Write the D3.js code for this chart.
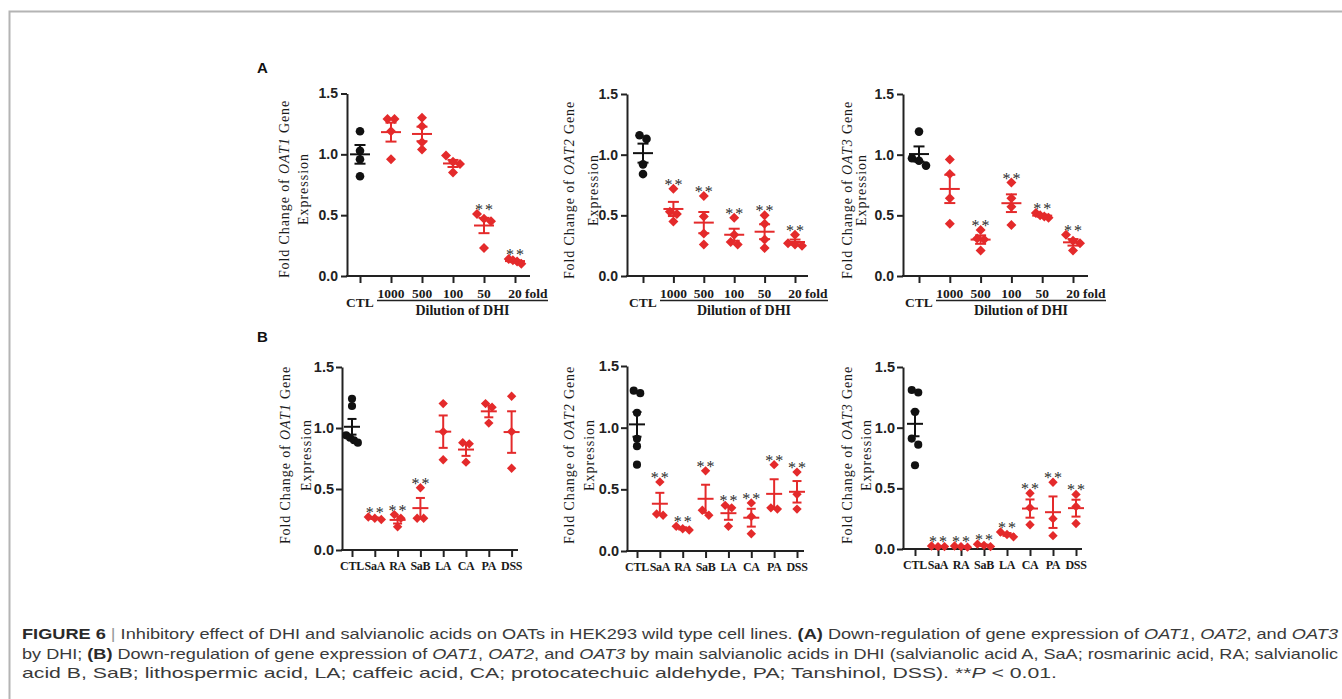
<!DOCTYPE html>
<html>
<head>
<meta charset="utf-8">
<script src="https://cdn.jsdelivr.net/npm/d3@7"></script>
<style>
  body { margin: 0; background: #fff; }
  svg { display: block; }
</style>
</head>
<body>
<div id="app"></div>
<script>
// categories
const dhiCats = ["CTL", "1000", "500", "100", "50", "20"];
const acidCats = ["CTL", "SaA", "RA", "SaB", "LA", "CA", "PA", "DSS"];
const yTicks = [0, 0.5, 1.0, 1.5];

// (A) DHI dilutions, fold change per replicate
const oat1Dhi = [[1.19, 1.03, 0.96, 0.82], [1.29, 1.29, 1.19, 0.96], [1.30, 1.23, 1.10, 1.04],
                 [0.99, 0.94, 0.92, 0.85], [0.51, 0.47, 0.45, 0.23], [0.14, 0.13, 0.12, 0.10]];
const oat2Dhi = [[1.16, 1.13, 0.92, 0.84], [0.72, 0.53, 0.51, 0.45], [0.66, 0.49, 0.35, 0.26],
                 [0.48, 0.34, 0.28, 0.26], [0.50, 0.43, 0.30, 0.23], [0.34, 0.27, 0.26, 0.25]];
const oat3Dhi = [[1.19, 0.97, 0.95, 0.91], [0.96, 0.84, 0.64, 0.43], [0.38, 0.31, 0.30, 0.21],
                 [0.77, 0.64, 0.57, 0.42], [0.52, 0.50, 0.49, 0.48], [0.34, 0.29, 0.27, 0.21]];
const oat1DhiSig = [false, false, false, false, true, true];
const oat2DhiSig = [false, true, true, true, true, true];
const oat3DhiSig = [false, false, true, true, true, true];

// (B) salvianolic acids
const oat1Acid = [[1.24, 1.18, 0.94, 0.92, 0.90, 0.88], [0.27, 0.26, 0.25], [0.29, 0.26, 0.19],
                  [0.51, 0.26, 0.26], [1.20, 0.97, 0.74], [0.88, 0.87, 0.72], [1.20, 1.17, 1.04],
                  [1.26, 0.97, 0.67]];
const oat2Acid = [[1.30, 1.28, 1.12, 0.91, 0.85, 0.70], [0.56, 0.30, 0.29], [0.20, 0.18, 0.17],
                  [0.65, 0.33, 0.29], [0.37, 0.35, 0.20], [0.39, 0.28, 0.14], [0.70, 0.35, 0.34],
                  [0.64, 0.46, 0.34]];
const oat3Acid = [[1.31, 1.29, 1.13, 0.91, 0.86, 0.69], [0.025, 0.02, 0.02], [0.025, 0.02, 0.015],
                  [0.04, 0.03, 0.02], [0.14, 0.12, 0.10], [0.46, 0.34, 0.20], [0.55, 0.25, 0.11],
                  [0.45, 0.35, 0.21]];
const oat1AcidSig = [false, true, true, true, false, false, false, false];
const oat2AcidSig = [false, true, true, true, true, true, true, true];
const oat3AcidSig = [false, true, true, true, true, true, true, true];

const captionLines = [
    [["FIGURE 6", "b"], [" | ", "sep"], ["Inhibitory effect of DHI and salvianolic acids on OATs in HEK293 wild type cell lines. "], ["(A)", "b"],
     [" Down-regulation of gene expression of "], ["OAT1", "i"], [", "], ["OAT2", "i"], [", and "], ["OAT3", "i"]],
    [["by DHI; "], ["(B)", "b"], [" Down-regulation of gene expression of "], ["OAT1", "i"], [", "], ["OAT2", "i"], [", and "], ["OAT3", "i"],
     [" by main salvianolic acids in DHI (salvianolic acid A, SaA; rosmarinic acid, RA; salvianolic"]],
    [["acid B, SaB; lithospermic acid, LA; caffeic acid, CA; protocatechuic aldehyde, PA; Tanshinol, DSS). **"], ["P", "i"], [" < 0.01."]]
];

const W = 1342, H = 699;
const serif = "'Liberation Serif', 'Times New Roman', serif";
const sans = "'Liberation Sans', Arial, sans-serif";
const red = "#e42a2b";
const black = "#111";
const axisColor = "#222";

const panels = [
    { cats: dhiCats, values: oat1Dhi, sig: oat1DhiSig, gene: "OAT1", dhi: true,
      axisX: 347, xFirst: 360, xLast: 515, xEnd: 530, y0: 276, yTop: 93.5, t1: 289, t2: 308, tcy: 189 },
    { cats: dhiCats, values: oat2Dhi, sig: oat2DhiSig, gene: "OAT2", dhi: true,
      axisX: 627, xFirst: 643, xLast: 795, xEnd: 808, y0: 276, yTop: 94, t1: 574, t2: 598, tcy: 190 },
    { cats: dhiCats, values: oat3Dhi, sig: oat3DhiSig, gene: "OAT3", dhi: true,
      axisX: 903, xFirst: 919, xLast: 1073, xEnd: 1088, y0: 276, yTop: 94, t1: 852, t2: 866, tcy: 190 },
    { cats: acidCats, values: oat1Acid, sig: oat1AcidSig, gene: "OAT1", dhi: false,
      axisX: 342, xFirst: 352, xLast: 511.6, xEnd: 518, y0: 550, yTop: 367, t1: 290, t2: 311, tcy: 455 },
    { cats: acidCats, values: oat2Acid, sig: oat2AcidSig, gene: "OAT2", dhi: false,
      axisX: 627, xFirst: 637, xLast: 797, xEnd: 804, y0: 551, yTop: 366, t1: 574, t2: 594, tcy: 455 },
    { cats: acidCats, values: oat3Acid, sig: oat3AcidSig, gene: "OAT3", dhi: false,
      axisX: 903, xFirst: 915, xLast: 1076, xEnd: 1082, y0: 549, yTop: 367, t1: 852, t2: 871, tcy: 455 }
];

const svg = d3.select("#app").append("svg")
    .attr("width", W)
    .attr("height", H);

//FRAME
svg.append("path")
    .attr("d", "M9.5," + H + "V11.5H" + W)
    .attr("fill", "none")
    .attr("stroke", "#b4b4b4")
    .attr("stroke-width", 2);

//PANEL LETTERS
svg.append("text").attr("x", 257).attr("y", 73).text("A")
    .style("font-family", sans).style("font-weight", "bold").style("font-size", "15px").attr("fill", "#111");
svg.append("text").attr("x", 257).attr("y", 342).text("B")
    .style("font-family", sans).style("font-weight", "bold").style("font-size", "15px").attr("fill", "#111");

// spread points that would overlap, like a scatter dot plot
function swarm(vals, y, d) {
    const pts = vals.map(function (v) { return { v: v, py: y(v), dx: 0 }; });
    const sorted = pts.slice().sort(function (a, b) { return a.py - b.py; });
    const clusters = [];
    sorted.forEach(function (p) {
        const last = clusters[clusters.length - 1];
        if (last && p.py - last[last.length - 1].py < d) {
            last.push(p);
        } else {
            clusters.push([p]);
        }
    });
    clusters.forEach(function (c) {
        const s = c.length >= 4 ? d * 0.6 : d;
        c.forEach(function (p, j) { p.dx = (j - (c.length - 1) / 2) * s; });
    });
    return pts;
}

function drawPanel(p) {
    const g = svg.append("g");
    const y = d3.scaleLinear().domain([0, 1.5]).range([p.y0, p.yTop]);
    const x = d3.scalePoint().domain(p.cats).range([p.xFirst, p.xLast]);

    const meanHW = p.dhi ? 10 : 8;
    const capHW = p.dhi ? 5.5 : 4.5;
    const spread = p.dhi ? 7 : 6.5;
    const circle = d3.symbol(d3.symbolCircle, p.dhi ? 58 : 52)();
    const diamond = d3.symbol(d3.symbolSquare, p.dhi ? 50 : 44)();

    //Y AXIS
    const yAxis = g.append("g")
        .attr("transform", "translate(" + p.axisX + ",0)")
        .call(d3.axisLeft(y).tickValues(yTicks).tickFormat(d3.format(".1f")).tickSize(6).tickSizeOuter(0).tickPadding(p.dhi ? 3 : 2));
    yAxis.select(".domain").attr("stroke", axisColor).attr("stroke-width", 2);
    yAxis.selectAll(".tick line").attr("stroke", axisColor).attr("stroke-width", 2);
    yAxis.selectAll(".tick text")
        .style("font-family", sans).style("font-weight", "bold")
        .style("font-size", p.dhi ? "14px" : "14.5px").attr("fill", "#222");

    //X AXIS
    g.append("line")
        .attr("x1", p.axisX - 1).attr("x2", p.xEnd)
        .attr("y1", p.y0).attr("y2", p.y0)
        .attr("stroke", axisColor).attr("stroke-width", 2);
    const xAxis = g.append("g")
        .attr("transform", "translate(0," + p.y0 + ")")
        .call(d3.axisBottom(x).tickSize(7).tickSizeOuter(0).tickFormat(""));
    xAxis.select(".domain").remove();
    xAxis.selectAll(".tick line").attr("stroke", axisColor).attr("stroke-width", 2);

    // x tick labels
    g.selectAll(".xlab").data(p.cats).enter().append("text")
        .attr("class", "xlab")
        .attr("x", function (d) { return x(d); })
        .attr("y", function (d, i) {
            if (!p.dhi) return p.y0 + 20;
            return i === 0 ? p.y0 + 31 : p.y0 + 22;
        })
        .attr("text-anchor", "middle")
        .style("font-family", serif).style("font-weight", "bold")
        .style("font-size", p.dhi ? "13.5px" : "12px")
        .style("letter-spacing", p.dhi ? "0px" : "-0.3px")
        .attr("fill", "#1a1a1a")
        .text(function (d) { return d; });

    if (p.dhi) {
        const last = p.cats[p.cats.length - 1];
        g.append("text")
            .attr("x", x(last) + 10).attr("y", p.y0 + 22)
            .style("font-family", serif).style("font-weight", "bold").style("font-size", "13.5px")
            .attr("fill", "#1a1a1a")
            .text("fold");
        const l0 = x(p.cats[0]) + 17;
        const l1 = x(last) + 33;
        g.append("line")
            .attr("x1", l0).attr("x2", l1)
            .attr("y1", p.y0 + 24.5).attr("y2", p.y0 + 24.5)
            .attr("stroke", "#222").attr("stroke-width", 1.3);
        g.append("text")
            .attr("x", (l0 + l1) / 2).attr("y", p.y0 + 39)
            .attr("text-anchor", "middle")
            .style("font-family", serif).style("font-weight", "bold").style("font-size", "14px")
            .attr("fill", "#1a1a1a")
            .text("Dilution of DHI");
    }

    //Y TITLE
    const t1 = g.append("text")
        .attr("transform", "translate(" + p.t1 + "," + p.tcy + ") rotate(-90)")
        .attr("text-anchor", "middle")
        .style("font-family", serif).style("font-size", "14px").style("letter-spacing", "0.9px")
        .attr("fill", "#1a1a1a");
    t1.append("tspan").text("Fold Change of ");
    t1.append("tspan").style("font-style", "italic").text(p.gene);
    t1.append("tspan").text(" Gene");
    g.append("text")
        .attr("transform", "translate(" + p.t2 + "," + p.tcy + ") rotate(-90)")
        .attr("text-anchor", "middle")
        .style("font-family", serif).style("font-size", "14px").style("letter-spacing", "1px")
        .attr("fill", "#1a1a1a")
        .text("Expression");

    //GROUPS
    p.values.forEach(function (vals, i) {
        const cx = x(p.cats[i]);
        const color = i === 0 ? black : red;
        const mean = d3.mean(vals);
        const sem = d3.deviation(vals) / Math.sqrt(vals.length);

        const pts = swarm(vals, y, spread);
        g.selectAll(null).data(pts).enter().append("path")
            .attr("d", i === 0 ? circle : diamond)
            .attr("transform", function (d) {
                return "translate(" + (cx + d.dx) + "," + d.py + ")" + (i === 0 ? "" : " rotate(45)");
            })
            .attr("fill", color);

        const eb = g.append("g").attr("stroke", color).attr("stroke-width", 2).attr("fill", "none");
        eb.append("line").attr("x1", cx - meanHW).attr("x2", cx + meanHW).attr("y1", y(mean)).attr("y2", y(mean));
        eb.append("line").attr("x1", cx).attr("x2", cx).attr("y1", y(mean - sem)).attr("y2", y(mean + sem));
        eb.append("line").attr("x1", cx - capHW).attr("x2", cx + capHW).attr("y1", y(mean - sem)).attr("y2", y(mean - sem));
        eb.append("line").attr("x1", cx - capHW).attr("x2", cx + capHW).attr("y1", y(mean + sem)).attr("y2", y(mean + sem));

        if (p.sig[i]) {
            const top = Math.min(y(d3.max(vals)), y(mean + sem));
            g.append("text")
                .attr("x", cx + 1).attr("y", top + 1)
                .attr("text-anchor", "middle")
                .style("font-family", serif).style("font-size", "16px").style("letter-spacing", "2px")
                .style("opacity", 0.99)
                .attr("fill", "#2a2a2a")
                .text("**");
        }
    });
}

panels.forEach(drawPanel);

//CAPTION
const capX = 22;
const capY = [639, 659, 678];
const capLen = [1316, 1316, 1035];
captionLines.forEach(function (line, li) {
    const t = svg.append("text")
        .attr("x", capX).attr("y", capY[li])
        .attr("textLength", capLen[li])
        .attr("lengthAdjust", "spacingAndGlyphs")
        .style("font-family", sans).style("font-size", "15px")
        .attr("fill", "#3a3a3a");
    line.forEach(function (part) {
        const s = t.append("tspan").text(part[0]);
        if (part[1] === "b") s.style("font-weight", "bold").attr("fill", "#2a2a2a");
        if (part[1] === "i") s.style("font-style", "italic");
        if (part[1] === "sep") s.attr("fill", "#999");
    });
});
</script>
</body>
</html>
